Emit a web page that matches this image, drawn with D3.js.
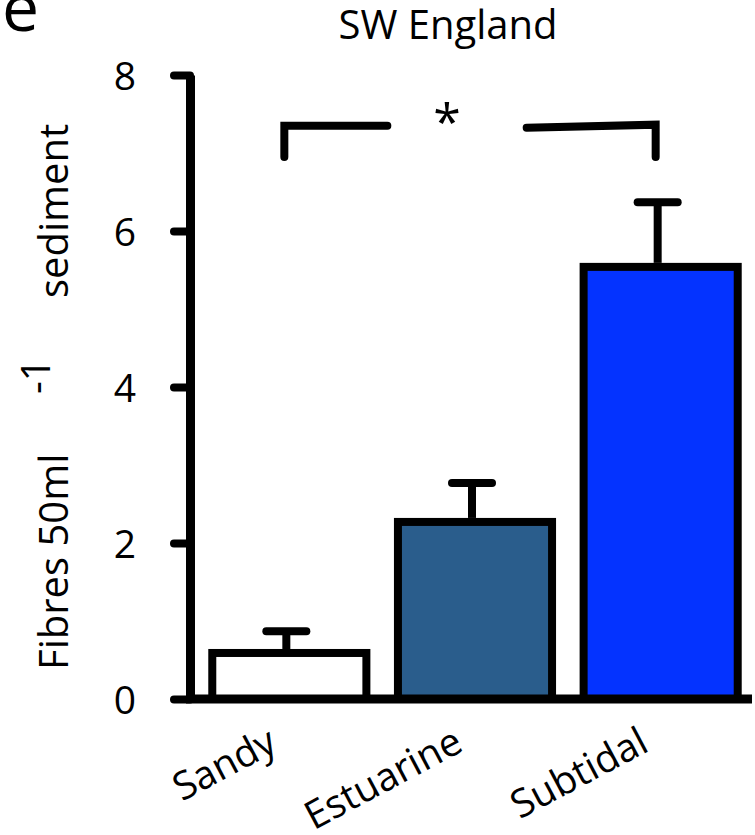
<!DOCTYPE html>
<html>
<head>
<meta charset="utf-8">
<script src="https://cdn.jsdelivr.net/npm/d3@7"></script>
<style>
  body { margin: 0; background: #fff; }
  text { font-family: "Open Sans", sans-serif; fill: #000; }
</style>
</head>
<body>
<div id="chart"></div>
<script>
// Chart data
const sites = ["Sandy", "Estuarine", "Subtidal"];
const means = [0.59, 2.27, 5.54];
const errors = [0.28, 0.50, 0.83];
const colors = ["#ffffff", "#2a5d8c", "#0433ff"];
const yTicks = [0, 2, 4, 6, 8];

const width = 755, height = 835;

const svg = d3.select("#chart")
  .append("svg")
  .attr("width", width)
  .attr("height", height);

// scales
const x = d3.scaleBand()
  .domain(sites)
  .range([190, 760])
  .paddingInner(0.17)
  .paddingOuter(0.12);

const y = d3.scaleLinear()
  .domain([0, 8])
  .range([699, 75]);

// panel letter + title
svg.append("text")
  .attr("x", 2)
  .attr("y", 31)
  .attr("font-size", 66)
  .text("e");

svg.append("text")
  .attr("x", 448)
  .attr("y", 39)
  .attr("text-anchor", "middle")
  .attr("font-size", 40)
  .text("SW England");

// bars
svg.selectAll("rect.bar")
  .data(sites)
  .enter()
  .append("rect")
  .attr("class", "bar")
  .attr("x", d => x(d))
  .attr("y", (d, i) => y(means[i]))
  .attr("width", x.bandwidth())
  .attr("height", (d, i) => y(0) - y(means[i]))
  .attr("fill", (d, i) => colors[i])
  .attr("stroke", "#000")
  .attr("stroke-width", 8);

// error bars
const err = svg.selectAll("g.err")
  .data(sites)
  .enter()
  .append("g")
  .attr("class", "err")
  .attr("stroke", "#000")
  .attr("stroke-width", 8)
  .attr("stroke-linecap", "round");

err.append("line")
  .attr("x1", d => x(d) + x.bandwidth() / 2 - 3)
  .attr("x2", d => x(d) + x.bandwidth() / 2 - 3)
  .attr("y1", (d, i) => y(means[i]) - 4)
  .attr("y2", (d, i) => y(means[i] + errors[i]))
  .attr("stroke-linecap", "butt");

err.append("line")
  .attr("x1", d => x(d) + x.bandwidth() / 2 - 23)
  .attr("x2", d => x(d) + x.bandwidth() / 2 + 17)
  .attr("y1", (d, i) => y(means[i] + errors[i]))
  .attr("y2", (d, i) => y(means[i] + errors[i]));

// y axis
const yAxis = svg.append("g")
  .attr("transform", "translate(190,0)")
  .call(d3.axisLeft(y).tickValues(yTicks).tickSize(20).tickSizeOuter(0).tickPadding(34));

yAxis.select(".domain").attr("stroke-width", 9);
yAxis.selectAll(".tick line")
  .attr("stroke-width", 8)
  .attr("stroke-linecap", "round")
  .attr("x2", -16);
yAxis.selectAll(".tick text")
  .attr("font-family", "Open Sans, sans-serif")
  .attr("font-size", 39)
  .attr("dy", "0.36em");

// x axis baseline
svg.append("line")
  .attr("x1", 186)
  .attr("x2", 752)
  .attr("y1", y(0))
  .attr("y2", y(0))
  .attr("stroke", "#000")
  .attr("stroke-width", 9);

// category labels
svg.selectAll("text.xlab")
  .data(sites)
  .enter()
  .append("text")
  .attr("class", "xlab")
  .attr("text-anchor", "end")
  .attr("font-size", 39)
  .attr("transform", d => `translate(${x(d) + x.bandwidth() / 2 - 10},750) rotate(-28)`)
  .text(d => d);

// y label
svg.append("text")
  .attr("transform", "translate(68,670) rotate(-90)")
  .attr("font-size", 40)
  .text("Fibres 50ml");
svg.append("text")
  .attr("transform", "translate(50,394) rotate(-90)")
  .attr("font-size", 40)
  .text("-1");
svg.append("text")
  .attr("transform", "translate(68,298) rotate(-90)")
  .attr("font-size", 40)
  .text("sediment");

// significance bracket
const bracketY = y(7.35), tipY = y(6.95);
const xl = x("Sandy") + x.bandwidth() / 2 - 5;
const xr = x("Subtidal") + x.bandwidth() / 2 - 5;
const bracket = svg.append("g")
  .attr("stroke", "#000")
  .attr("stroke-width", 8)
  .attr("stroke-linecap", "round")
  .attr("fill", "none");
bracket.append("path")
  .attr("d", `M${xl},${tipY} L${xl},${bracketY} L${xl + 103},${bracketY}`);
bracket.append("path")
  .attr("d", `M${xr - 129},${bracketY + 2} L${xr},${bracketY - 1} L${xr},${tipY}`);

svg.append("text")
  .attr("x", x("Estuarine") + x.bandwidth() / 2 - 28)
  .attr("y", 140)
  .attr("text-anchor", "middle")
  .attr("font-size", 50)
  .text("*");
</script>
</body>
</html>
